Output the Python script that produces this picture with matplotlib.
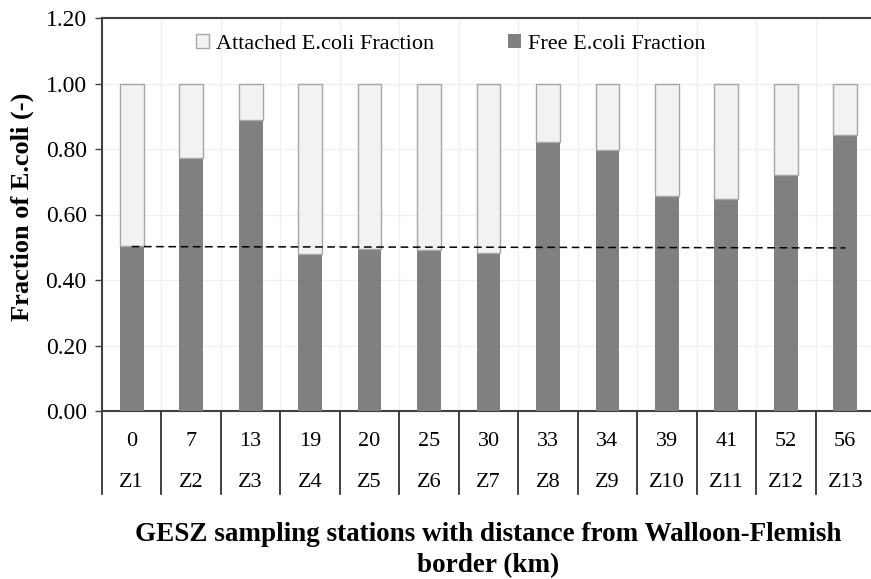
import matplotlib.pyplot as plt
import numpy as np

plt.rcParams['font.family'] = ['Liberation Serif', 'DejaVu Serif']

stations = ['Z1', 'Z2', 'Z3', 'Z4', 'Z5', 'Z6', 'Z7', 'Z8', 'Z9', 'Z10', 'Z11', 'Z12', 'Z13']
distance = ['0', '7', '13', '19', '20', '25', '30', '33', '34', '39', '41', '52', '56']
free = [0.503, 0.774, 0.888, 0.478, 0.496, 0.491, 0.481, 0.822, 0.796, 0.656, 0.647, 0.722, 0.843]
attached = [1 - f for f in free]
ref_line = [0.502, 0.498]

W, H = 871, 579
fig = plt.figure(figsize=(W / 100, H / 100), dpi=100)
x0, x1, y0, y1 = 102, 875, 411, 18
ax = fig.add_axes([x0 / W, 1 - y0 / H, (x1 - x0) / W, (y0 - y1) / H])

x = np.arange(len(stations))
ax.bar(x, free, width=0.4, color='#808080', label='Free E.coli Fraction', zorder=3)
ax.bar(x, attached, width=0.4, bottom=free, color='#f2f2f2', edgecolor='#a6a6a6',
       linewidth=1.0, label='Attached E.coli Fraction', zorder=3)
ax.plot([x[0], x[-1]], ref_line, color='black', linestyle=(0, (5, 3)), linewidth=1.1, zorder=4)

ax.set_xlim(-0.5, len(stations) - 0.5)
ax.set_ylim(0, 1.2)
ax.set_yticks(np.arange(0, 1.21, 0.2))
ax.set_yticklabels(['%.2f' % v for v in np.arange(0, 1.21, 0.2)], fontsize=17)
ax.tick_params(axis='y', length=5, width=1, color='#404040', pad=6)
ax.set_xticks([])

# faint grid
for v in np.arange(0.2, 1.21, 0.2):
    ax.axhline(v, color='#f0f0f0', linewidth=1, zorder=0)
for b in np.arange(0.5, len(stations) - 0.5, 1):
    ax.axvline(b, color='#f0f0f0', linewidth=1, zorder=0)

for s in ['left', 'bottom', 'top']:
    ax.spines[s].set_color('#404040')
    ax.spines[s].set_linewidth(1.5)
ax.spines['right'].set_visible(False)

# category table below axis
trans = ax.get_xaxis_transform()
for b in np.arange(-0.5, len(stations) + 0.5, 1):
    ax.plot([b, b], [0, -0.21], transform=trans, color='#202020', linewidth=1.2, clip_on=False)
for i in range(len(stations)):
    ax.text(x[i], -0.078, distance[i], transform=trans, ha='center', va='center', fontsize=16)
    ax.text(x[i], -0.183, stations[i], transform=trans, ha='center', va='center', fontsize=16)

handles, labels = ax.get_legend_handles_labels()
leg = ax.legend(handles[::-1], labels[::-1], loc='upper center', bbox_to_anchor=(0.451, 1.01),
                ncol=2, frameon=False, fontsize=16, handlelength=0.6, handleheight=0.6,
                handletextpad=0.3, columnspacing=3.3)

fig.text(22 / W, 1 - 207 / H, 'Fraction of E.coli (-)', rotation=90, ha='center', va='center',
         fontsize=19, fontweight='bold')
fig.text(488 / W, 1 - 550 / H, 'GESZ sampling stations with distance from Walloon-Flemish\nborder (km)',
         ha='center', va='center', fontsize=19.5, fontweight='bold', linespacing=1.3)

fig.savefig('out.png', dpi=100)
